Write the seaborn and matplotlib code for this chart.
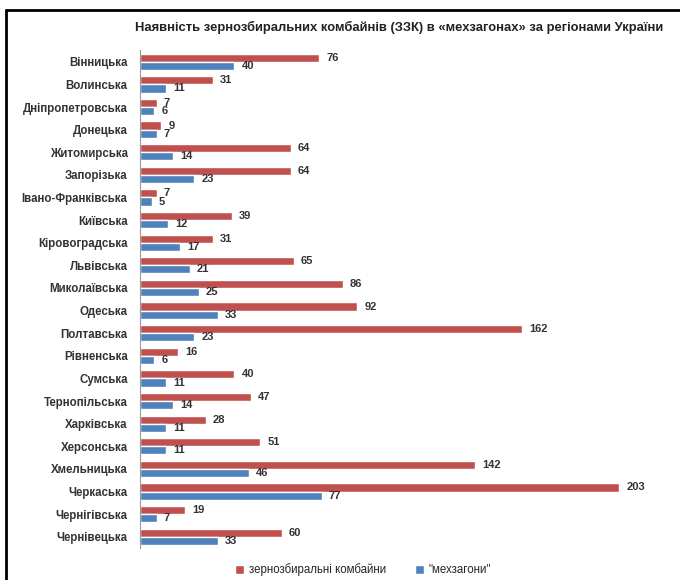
import seaborn as sns
import pandas as pd
import matplotlib.pyplot as plt
from matplotlib.lines import Line2D

regions = ['Вінницька', 'Волинська', 'Дніпропетровська', 'Донецька', 'Житомирська',
           'Запорізька', 'Івано-Франківська', 'Київська', 'Кіровоградська', 'Львівська',
           'Миколаївська', 'Одеська', 'Полтавська', 'Рівненська', 'Сумська',
           'Тернопільська', 'Харківська', 'Херсонська', 'Хмельницька', 'Черкаська',
           'Чернігівська', 'Чернівецька']
combines = [76, 31, 7, 9, 64, 64, 7, 39, 31, 65, 86, 92, 162, 16, 40, 47, 28, 51, 142, 203, 19, 60]
mehzagony = [40, 11, 6, 7, 14, 23, 5, 12, 17, 21, 25, 33, 23, 6, 11, 14, 11, 11, 46, 77, 7, 33]
series = ['зернозбиральні комбайни', '"мехзагони"']

df = pd.DataFrame({'region': regions * 2,
                   'value': combines + mehzagony,
                   'series': [series[0]] * len(regions) + [series[1]] * len(regions)})

sns.set_style('white')
plt.rcParams['font.family'] = ['Liberation Sans', 'DejaVu Sans']

fig = plt.figure(figsize=(6.8, 5.8), dpi=100)
ax = fig.add_axes([0.206, 0.055, 0.781, 0.858])

sns.barplot(data=df, y='region', x='value', hue='series', orient='h',
            palette=['#C0504D', '#4F81BD'], saturation=1, width=0.72, gap=0,
            ax=ax, legend=True)

for cont in ax.containers:
    ax.bar_label(cont, padding=5, fontsize=8, fontweight='bold', color='#333333')

ax.set_xlim(0, 225)
ax.set_xlabel('')
ax.set_ylabel('')
ax.set_xticks([])
ax.tick_params(axis='y', length=0, pad=9, labelsize=8.3)
for lab in ax.get_yticklabels():
    lab.set_fontweight('bold')
    lab.set_color('#333333')
for s in ['top', 'right', 'bottom']:
    ax.spines[s].set_visible(False)
ax.spines['left'].set_color('#9a9a9a')
ax.spines['left'].set_linewidth(0.8)

ax.legend(loc='upper center', bbox_to_anchor=(0.42, -0.01), ncol=2, frameon=False,
          fontsize=8.3, handlelength=0.8, handleheight=0.8, columnspacing=2.5,
          handletextpad=0.4)

fig.text(0.587, 0.953, 'Наявність зернозбиральних комбайнів (ЗЗК) в «мехзагонах» за регіонами України',
         ha='center', va='center', fontsize=9.4, fontweight='bold', color='#222222')

# frame around the picture (top and left edges)
fig.add_artist(Line2D([0.009, 0.009], [0, 0.983], transform=fig.transFigure, color='black', lw=2))
fig.add_artist(Line2D([0.009, 1], [0.983, 0.983], transform=fig.transFigure, color='black', lw=2))

fig.savefig('out.png', dpi=100)
